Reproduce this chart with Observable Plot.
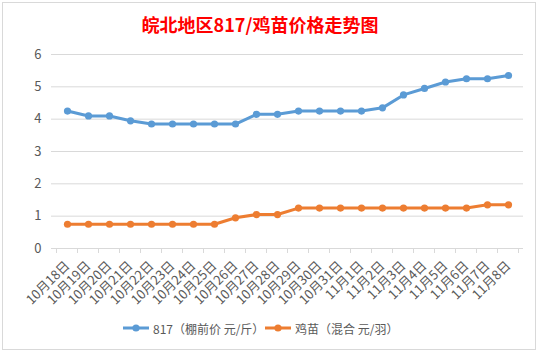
<!DOCTYPE html>
<html><head><meta charset="utf-8">
<script src="https://cdn.jsdelivr.net/npm/d3@7"></script>
<script src="https://cdn.jsdelivr.net/npm/@observablehq/plot@0.6"></script>
<style>
body{margin:0;background:#fff;font-family:"Noto Sans CJK SC","Noto Sans",sans-serif;}
#wrap{position:relative;width:540px;height:352px;overflow:hidden;background:#fff;}
#frame{position:absolute;left:2px;top:2px;width:532px;height:346px;border:1px solid #d9d9d9;pointer-events:none;}
#title{height:40px;box-sizing:border-box;padding-top:12px;line-height:24px;text-align:center;padding-right:20px;color:#ff0000;font-weight:bold;font-size:18px;}
#chart{height:268px;}
#chart svg{display:block;}
#legend{position:relative;height:40px;font-size:12px;color:#595959;}
#legend .item{position:absolute;top:0;height:40px;display:flex;align-items:center;white-space:nowrap;}
#legend .item svg{margin-right:4px;}
</style></head>
<body>
<div id="wrap">
  <div id="frame"></div>
  <div id="title">皖北地区817/鸡苗价格走势图</div>
  <div id="chart"></div>
  <div id="legend"></div>
</div>
<script>
const dates = ["10月18日","10月19日","10月20日","10月21日","10月22日","10月23日","10月24日","10月25日","10月26日","10月27日","10月28日","10月29日","10月30日","10月31日","11月1日","11月2日","11月3日","11月4日","11月5日","11月6日","11月7日","11月8日"];
const price817 = [4.25,4.1,4.1,3.95,3.85,3.85,3.85,3.85,3.85,4.15,4.15,4.25,4.25,4.25,4.25,4.35,4.75,4.95,5.15,5.25,5.25,5.35];
const chickPrice = [0.75,0.75,0.75,0.75,0.75,0.75,0.75,0.75,0.95,1.05,1.05,1.25,1.25,1.25,1.25,1.25,1.25,1.25,1.25,1.25,1.35,1.35];
const yTicks = [0,1,2,3,4,5,6];
const seriesNames = ["817（棚前价 元/斤）","鸡苗（混合 元/羽）"];
const seriesColors = ["#5B9BD5","#ED7D31"];

const d817 = dates.map((d,i)=>({date:d, v:price817[i]}));
const dChick = dates.map((d,i)=>({date:d, v:chickPrice[i]}));

function boundaryTicks(index, scales) {
  const x = scales.x, y0 = scales.y(0);
  const step = x(dates[1]) - x(dates[0]);
  const g = d3.create("svg:g").attr("stroke","#d9d9d9").attr("stroke-width",1);
  const xs = dates.map(d => x(d) - step/2).concat([x(dates[dates.length-1]) + step/2]);
  for (const v of xs) g.append("line").attr("x1",v).attr("x2",v).attr("y1",y0).attr("y2",y0+5);
  return g.node();
}

const chart = Plot.plot({
  width: 540, height: 268,
  marginLeft: 51, marginRight: 17, marginTop: 14, marginBottom: 60,
  style: {fontFamily: '"Noto Sans CJK SC","Noto Sans",sans-serif', fontSize: "12px", color: "#595959", background: "transparent"},
  x: {type: "point", domain: dates, padding: 0.5, label: null},
  y: {domain: [0, 6], label: null},
  marks: [
    Plot.ruleY(yTicks, {stroke: "#d9d9d9", strokeWidth: 1}),
    boundaryTicks,
    Plot.axisY({ticks: yTicks, tickFormat: d => String(d), tickSize: 0, tickPadding: 10, fontSize: 13, label: null}),
    Plot.axisX({tickRotate: -45, tickSize: 0, tickPadding: 15, fontSize: 13, label: null}),
    Plot.line(d817, {x: "date", y: "v", stroke: seriesColors[0], strokeWidth: 3}),
    Plot.dot(d817, {x: "date", y: "v", r: 3.6, fill: seriesColors[0], stroke: "none"}),
    Plot.line(dChick, {x: "date", y: "v", stroke: seriesColors[1], strokeWidth: 3}),
    Plot.dot(dChick, {x: "date", y: "v", r: 3.6, fill: seriesColors[1], stroke: "none"})
  ]
});
document.getElementById("chart").appendChild(chart);

const legend = document.getElementById("legend");
const lefts = [123, 265];
seriesNames.forEach((name, i) => {
  const item = document.createElement("div");
  item.className = "item";
  item.style.left = lefts[i] + "px";
  item.innerHTML = `<svg width="26" height="10"><line x1="0" y1="5" x2="26" y2="5" stroke="${seriesColors[i]}" stroke-width="3"/><circle cx="13" cy="5" r="3.6" fill="${seriesColors[i]}"/></svg><span>${name}</span>`;
  legend.appendChild(item);
});
</script>
</body></html>
